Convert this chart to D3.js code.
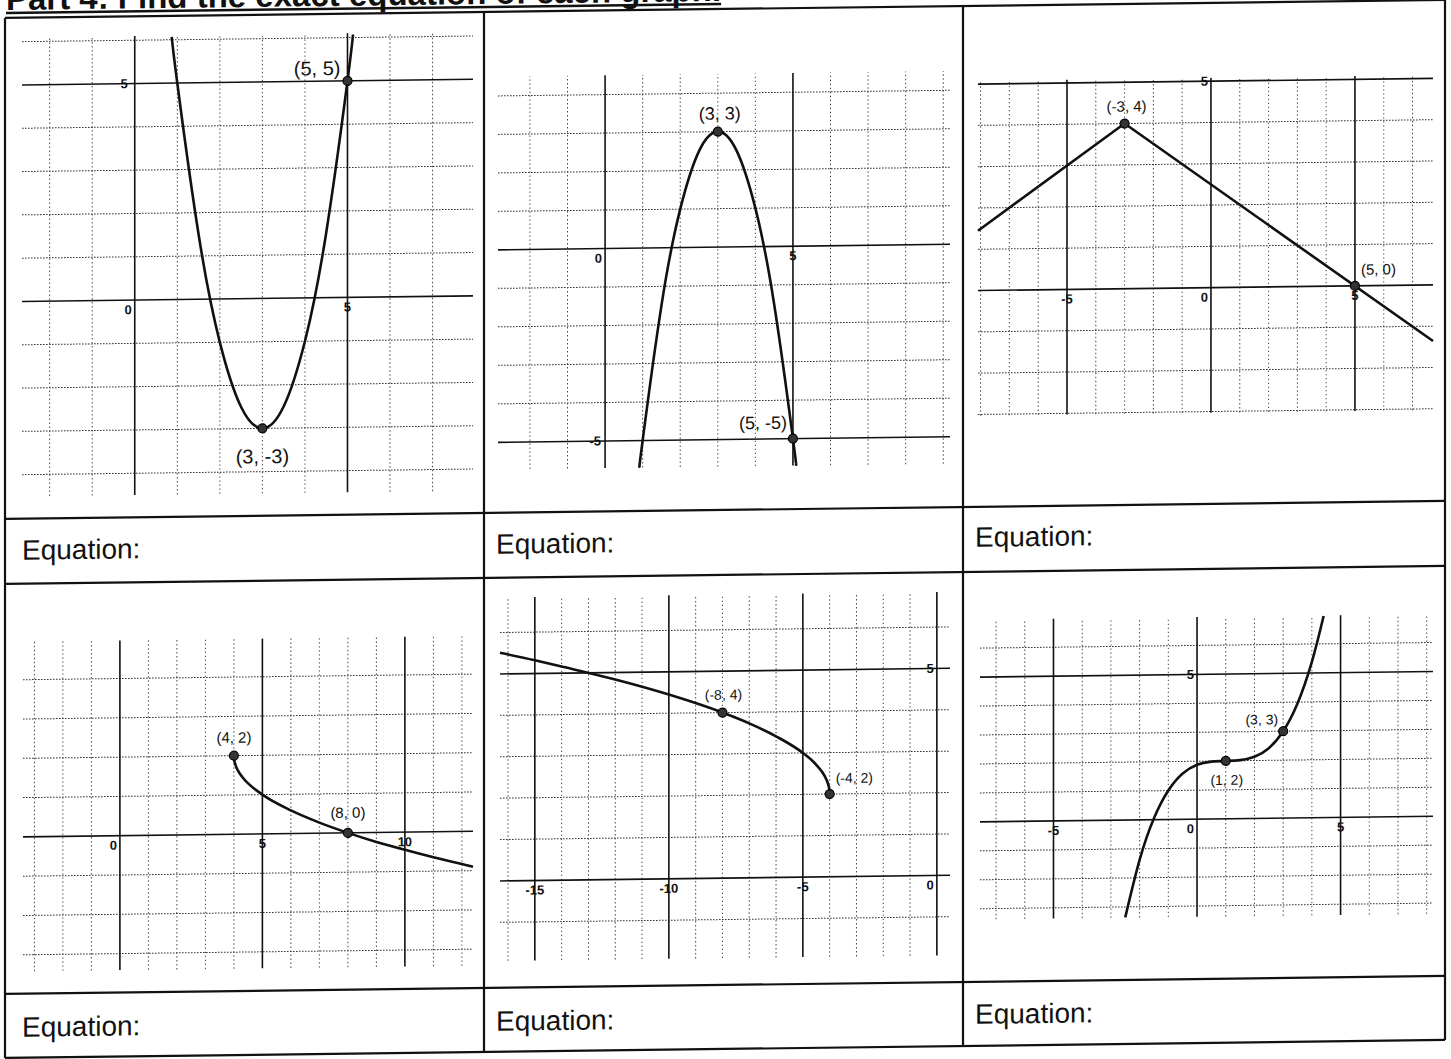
<!DOCTYPE html>
<html>
<head>
<meta charset="utf-8">
<script src="https://cdn.jsdelivr.net/npm/d3@7"></script>
<style>
  html, body { margin: 0; padding: 0; background: #fff; }
  svg { display: block; }
  text { font-family: "Liberation Sans", Arial, sans-serif; fill: #111; }
</style>
</head>
<body>
<svg id="sheet" width="1451" height="1059"></svg>
<script>
// ---- worksheet text ----
const titleText = "Part 4: Find the exact equation of each graph.";
const equationLabel = "Equation:";

// ---- graph 1: upward parabola ----
const p1CurveX = [0.87, 1, 1.5, 2, 2.5, 3, 3.5, 4, 4.5, 5, 5.13];
const p1CurveY = [6.07, 5, 1.5, -1, -2.5, -3, -2.5, -1, 1.5, 5, 6.07];
const p1PointX = [5, 3];
const p1PointY = [5, -3];
const p1PointText = ["(5, 5)", "(3, -3)"];
const p1XTicks = ["5"];
const p1YTicks = ["5"];

// ---- graph 2: downward parabola ----
const p2CurveX = [0.92, 1, 1.5, 2, 2.5, 3, 3.5, 4, 4.5, 5, 5.08];
const p2CurveY = [-5.65, -5, -1.5, 1, 2.5, 3, 2.5, 1, -1.5, -5, -5.65];
const p2PointX = [3, 5];
const p2PointY = [3, -5];
const p2PointText = ["(3, 3)", "(5, -5)"];
const p2XTicks = ["5"];
const p2YTicks = ["-5"];

// ---- graph 3: absolute value ----
const p3CurveX = [-8.09, -3, 7.71];
const p3CurveY = [1.45, 4, -1.36];
const p3PointX = [-3, 5];
const p3PointY = [4, 0];
const p3PointText = ["(-3, 4)", "(5, 0)"];
const p3XTicks = ["-5", "5"];
const p3YTicks = ["5"];

// ---- graph 4: square root, reflected ----
const p4CurveX = [4, 4.01, 4.05, 4.15, 4.3, 4.5, 5, 6, 7, 8, 9, 10, 11, 12.39];
const p4CurveY = [2, 1.9, 1.78, 1.61, 1.45, 1.29, 1, 0.59, 0.27, 0, -0.24, -0.45, -0.65, -0.9];
const p4PointX = [4, 8];
const p4PointY = [2, 0];
const p4PointText = ["(4, 2)", "(8, 0)"];
const p4XTicks = ["5", "10"];
const p4YTicks = [];

// ---- graph 5: square root opening left ----
const p5CurveX = [-16.3, -15, -14, -12, -10, -8, -7, -6, -5, -4.5, -4.2, -4.05, -4.01, -4];
const p5CurveY = [5.51, 5.32, 5.16, 4.83, 4.45, 4, 3.73, 3.41, 3, 2.71, 2.45, 2.22, 2.1, 2];
const p5PointX = [-8, -4];
const p5PointY = [4, 2];
const p5PointText = ["(-8, 4)", "(-4, 2)"];
const p5XTicks = ["-15", "-10", "-5"];
const p5YTicks = ["5"];

// ---- graph 6: cubic ----
const p6CurveX = [-2.5, -2, -1.5, -1, -0.5, 0, 0.5, 1, 1.5, 2, 2.5, 3, 3.5, 4, 4.41];
const p6CurveY = [-3.36, -1.38, 0.05, 1, 1.58, 1.88, 1.98, 2, 2.02, 2.13, 2.42, 3, 3.95, 5.38, 6.96];
const p6PointX = [3, 1];
const p6PointY = [3, 2];
const p6PointText = ["(3, 3)", "(1, 2)"];
const p6XTicks = ["-5", "5"];
const p6YTicks = ["5"];

// ---- layout of each graph window on the sheet ----
const panels = [
  { cx: p1CurveX, cy: p1CurveY, px: p1PointX, py: p1PointY, pt: p1PointText, xt: p1XTicks, yt: p1YTicks,
    xDom: [-2.65, 7.95], xRange: [22, 473], yDom: [-4.5, 6.1], yRange: [496.6, 37.6],
    curve: d3.curveNatural, fs: 20, yTickDx: -7,
    lab: [{dx: -7, dy: -6, a: "end"}, {dx: 0, dy: 35, a: "middle"}] },
  { cx: p2CurveX, cy: p2CurveY, px: p2PointX, py: p2PointY, pt: p2PointText, xt: p2XTicks, yt: p2YTicks,
    xDom: [-2.85, 9.18], xRange: [498, 950], yDom: [-5.7, 4.5], yRange: [475.5, 82.9],
    curve: d3.curveNatural, fs: 18, yTickDx: -4,
    lab: [{dx: 2, dy: -12, a: "middle"}, {dx: -6, dy: -10, a: "end"}] },
  { cx: p3CurveX, cy: p3CurveY, px: p3PointX, py: p3PointY, pt: p3PointText, xt: p3XTicks, yt: p3YTicks,
    xDom: [-8.09, 7.71], xRange: [978, 1433], yDom: [-3.03, 5.08], yRange: [427.9, 93.0],
    curve: d3.curveLinear, fs: 15, yTickDx: -3,
    lab: [{dx: 2, dy: -12, a: "middle"}, {dx: 6, dy: -11, a: "start"}] },
  { cx: p4CurveX, cy: p4CurveY, px: p4PointX, py: p4PointY, pt: p4PointText, xt: p4XTicks, yt: p4YTicks,
    xDom: [-3.4, 12.39], xRange: [23, 473], yDom: [-3.42, 4.97], yRange: [971.6, 641.9],
    curve: d3.curveMonotoneX, fs: 15, yTickDx: -3,
    lab: [{dx: 0, dy: -13, a: "middle"}, {dx: 0, dy: -15, a: "middle"}] },
  { cx: p5CurveX, cy: p5CurveY, px: p5PointX, py: p5PointY, pt: p5PointText, xt: p5XTicks, yt: p5YTicks,
    xDom: [-16.3, 0.49], xRange: [500, 950], yDom: [-1.93, 6.85], yRange: [967.1, 603.6],
    curve: d3.curveMonotoneX, fs: 14, yTickDx: -3,
    lab: [{dx: 1, dy: -13, a: "middle"}, {dx: 6, dy: -11, a: "start"}] },
  { cx: p6CurveX, cy: p6CurveY, px: p6PointX, py: p6PointY, pt: p6PointText, xt: p6XTicks, yt: p6YTicks,
    xDom: [-7.56, 8.22], xRange: [980, 1433], yDom: [-3.37, 6.98], yRange: [931.7, 632.0],
    curve: d3.curveNatural, fs: 14, yTickDx: -3,
    lab: [{dx: -5, dy: -7, a: "end"}, {dx: 1, dy: 24, a: "middle"}] }
];

const svg = d3.select("#sheet");
svg.append("rect").attr("width", 1451).attr("height", 1059).attr("fill", "#fff");

// the printed sheet sits slightly sheared on the page
const page = svg.append("g").attr("transform", "skewY(-0.716)");

// ---- title (runs off the top of the sheet) ----
const title = page.append("text")
  .attr("x", 6).attr("y", 10)
  .attr("font-size", 33).attr("font-weight", "bold")
  .text(titleText);
const tLen = title.node().getComputedTextLength();
page.append("line").attr("x1", 6).attr("x2", 6 + tLen)
  .attr("y1", 13).attr("y2", 13).attr("stroke", "#111").attr("stroke-width", 2.5);

// ---- table frame ----
const frame = page.append("g").attr("stroke", "#111").attr("stroke-width", 2.2).attr("fill", "none");
[5, 484, 963, 1445].forEach(x => frame.append("line").attr("x1", x).attr("x2", x).attr("y1", 18).attr("y2", 1058));
[18, 519, 584, 994, 1058].forEach(y => frame.append("line").attr("x1", 5).attr("x2", 1445).attr("y1", y).attr("y2", y));

// ---- "Equation:" answer rows ----
[[22, 560], [496, 560], [975, 559], [22, 1037], [496, 1037], [975, 1036]].forEach(([x, y]) => {
  page.append("text").attr("x", x).attr("y", y).attr("font-size", 28).text(equationLabel);
});

// ---- graphs ----
panels.forEach(p => {
  const x = d3.scaleLinear().domain(p.xDom).range(p.xRange);
  const y = d3.scaleLinear().domain(p.yDom).range(p.yRange);
  const g = page.append("g");

  const xs = d3.range(Math.ceil(p.xDom[0]), Math.floor(p.xDom[1]) + 1);
  const ys = d3.range(Math.ceil(p.yDom[0]), Math.floor(p.yDom[1]) + 1);

  // minor grid: dotted
  g.selectAll(".hg").data(ys.filter(v => v % 5 !== 0)).join("line")
    .attr("x1", p.xRange[0]).attr("x2", p.xRange[1])
    .attr("y1", d => y(d)).attr("y2", d => y(d))
    .attr("stroke", "#333").attr("stroke-width", 1).attr("stroke-dasharray", "1.6,1.4");
  g.selectAll(".vg").data(xs.filter(v => v % 5 !== 0)).join("line")
    .attr("y1", p.yRange[0]).attr("y2", p.yRange[1])
    .attr("x1", d => x(d)).attr("x2", d => x(d))
    .attr("stroke", "#444").attr("stroke-width", 1).attr("stroke-dasharray", "1.4,2.6");

  // major grid and axes: solid
  g.selectAll(".hm").data(ys.filter(v => v % 5 === 0)).join("line")
    .attr("x1", p.xRange[0]).attr("x2", p.xRange[1])
    .attr("y1", d => y(d)).attr("y2", d => y(d))
    .attr("stroke", "#111").attr("stroke-width", 1.6);
  g.selectAll(".vm").data(xs.filter(v => v % 5 === 0)).join("line")
    .attr("y1", p.yRange[0]).attr("y2", p.yRange[1])
    .attr("x1", d => x(d)).attr("x2", d => x(d))
    .attr("stroke", "#111").attr("stroke-width", 1.6);

  // tick labels
  const tick = { "font-size": 13, "font-weight": "bold", "font-family": "'Liberation Sans Narrow','Liberation Sans',Arial,sans-serif" };
  const apply = (sel) => { Object.entries(tick).forEach(([k, v]) => sel.attr(k, v)); return sel; };
  apply(g.append("text").attr("x", x(0) - 3).attr("y", y(0) + 14).attr("text-anchor", "end").text("0"));
  p.xt.forEach(t => apply(g.append("text").attr("x", x(+t)).attr("y", y(0) + 14)
    .attr("text-anchor", "middle").text(t)));
  p.yt.forEach(t => apply(g.append("text").attr("x", x(0) + p.yTickDx).attr("y", y(+t) + 4.5)
    .attr("text-anchor", "end").text(t)));

  // function graph
  const pts = p.cx.map((v, i) => [v, p.cy[i]]);
  g.append("path").datum(pts)
    .attr("d", d3.line().x(d => x(d[0])).y(d => y(d[1])).curve(p.curve))
    .attr("fill", "none").attr("stroke", "#111").attr("stroke-width", 2.6)
    .attr("stroke-linejoin", "round");

  // labelled points
  p.px.forEach((v, i) => {
    g.append("circle").attr("cx", x(v)).attr("cy", y(p.py[i])).attr("r", 4.5)
      .attr("fill", "#333").attr("stroke", "#000").attr("stroke-width", 1.2);
    g.append("text").attr("x", x(v) + p.lab[i].dx).attr("y", y(p.py[i]) + p.lab[i].dy)
      .attr("text-anchor", p.lab[i].a).attr("font-size", p.fs).text(p.pt[i]);
  });
});
</script>
</body>
</html>
